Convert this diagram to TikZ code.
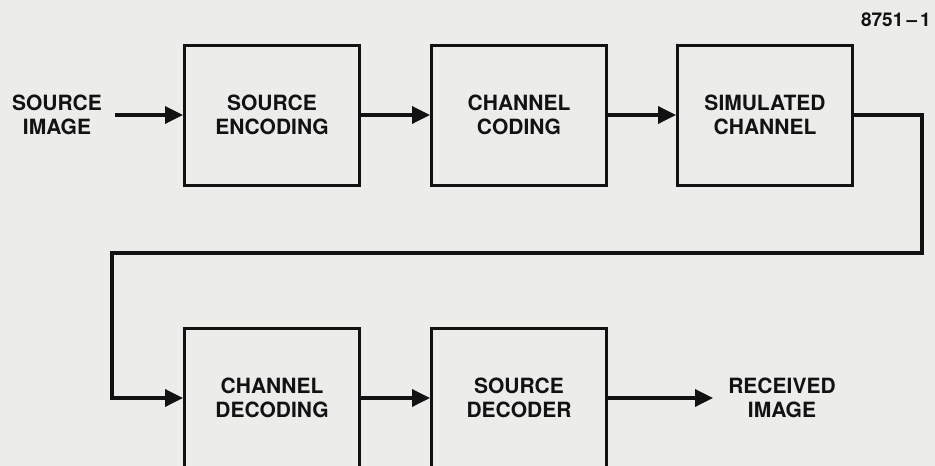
\documentclass[tikz,border=0pt]{standalone}
\usepackage{fontspec}
\setmainfont{TeX Gyre Heros}
\usetikzlibrary{arrows.meta}
\definecolor{paper}{RGB}{236,236,234}
\definecolor{ink}{RGB}{18,18,18}
\begin{document}
\begin{tikzpicture}[x=1pt,y=-1pt,
  box/.style={draw=ink, line width=3pt, minimum width=175pt, minimum height=140pt,
    inner sep=0pt, align=center, text=ink, font=\bfseries\fontsize{21}{24}\selectfont},
  lbl/.style={align=center, text=ink, inner sep=0pt, font=\bfseries\fontsize{21}{24}\selectfont},
  tag/.style={text=ink, inner sep=0pt, font=\bfseries\fontsize{19}{22}\selectfont},
  conn/.style={draw=ink, line width=3.5pt, line join=miter, -{Triangle[length=18pt,width=17pt]}}]
\fill[paper] (0,0) rectangle (935,466);
\useasboundingbox (0,0) rectangle (935,466);
\clip (0,0) rectangle (935,466);

\node[tag, anchor=east] (num) at (931,20) {8751\,--\,1};

\node[lbl] (src) at (57,115) {SOURCE\\IMAGE};
\node[box] (se) at (272,115) {SOURCE\\ENCODING};
\node[box] (cc) at (519,115) {CHANNEL\\CODING};
\node[box] (sc) at (765,115) {SIMULATED\\CHANNEL};
\node[box] (cd) at (272,398) {CHANNEL\\DECODING};
\node[box] (sd) at (519,398) {SOURCE\\DECODER};
\node[lbl] (rcv) at (782,398) {RECEIVED\\IMAGE};

\coordinate (a0) at (115,115);
\coordinate (r1) at (922,253);
\coordinate (l1) at (112,253);
\coordinate (a9) at (713,398);

\draw[conn] (a0) -- (se.west);
\draw[conn] (se.east) -- (cc.west);
\draw[conn] (cc.east) -- (sc.west);
\draw[conn] (sc.east) -| (r1) -- (l1) |- (cd.west);
\draw[conn] (cd.east) -- (sd.west);
\draw[conn] (sd.east) -- (a9);
\end{tikzpicture}
\end{document}
